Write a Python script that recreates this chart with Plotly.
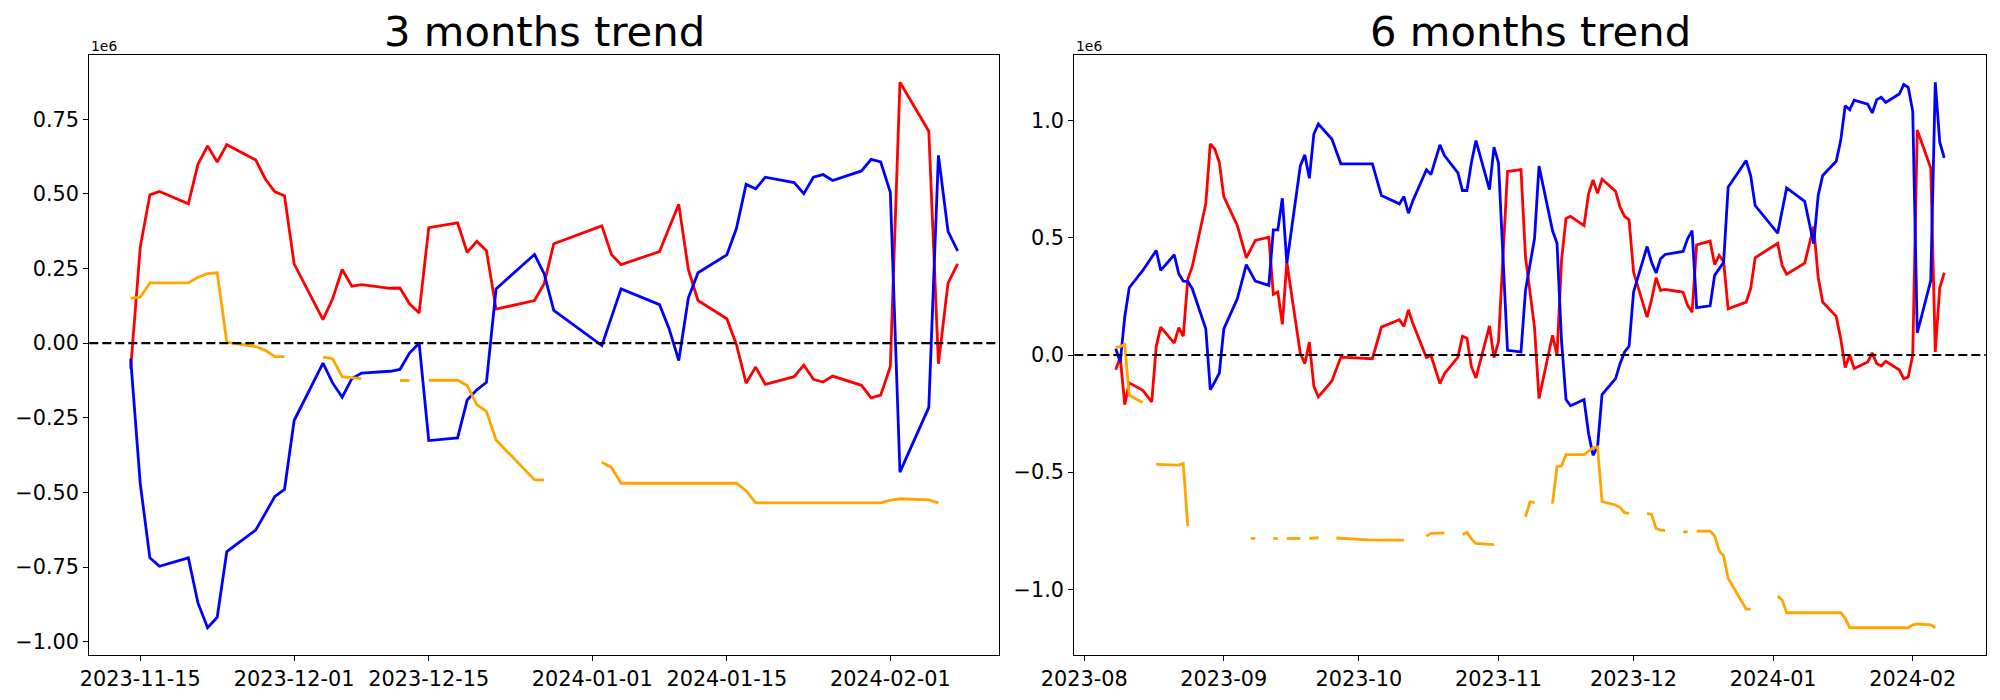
import plotly.graph_objects as go
import pandas as pd

# ---------------- 3 months trend ----------------
dates_3m = [
    "2023-11-14", "2023-11-15", "2023-11-16", "2023-11-17", "2023-11-20", "2023-11-21", "2023-11-22",
    "2023-11-23", "2023-11-24", "2023-11-27", "2023-11-28", "2023-11-29", "2023-11-30",
    "2023-12-01", "2023-12-04", "2023-12-05", "2023-12-06", "2023-12-07", "2023-12-08", "2023-12-11",
    "2023-12-12", "2023-12-13", "2023-12-14", "2023-12-15", "2023-12-18", "2023-12-19", "2023-12-20",
    "2023-12-21", "2023-12-22", "2023-12-26", "2023-12-27", "2023-12-28",
    "2024-01-02", "2024-01-03", "2024-01-04", "2024-01-08", "2024-01-09", "2024-01-10", "2024-01-11",
    "2024-01-12", "2024-01-15", "2024-01-16", "2024-01-17", "2024-01-18", "2024-01-19", "2024-01-22",
    "2024-01-23", "2024-01-24", "2024-01-25", "2024-01-26", "2024-01-29", "2024-01-30", "2024-01-31",
    "2024-02-01", "2024-02-02", "2024-02-05", "2024-02-06", "2024-02-07", "2024-02-08",
]
red_3m = [
    -0.086, 0.322, 0.497, 0.508, 0.467, 0.599, 0.661, 0.607, 0.665, 0.614, 0.550, 0.507, 0.494,
    0.266, 0.079, 0.149, 0.247, 0.191, 0.196, 0.184, 0.185, 0.132, 0.101, 0.387, 0.403, 0.304, 0.341,
    0.310, 0.114, 0.143, 0.199, 0.333,
    0.393, 0.297, 0.263, 0.307, 0.387, 0.465, 0.246, 0.143, 0.082, -0.005, -0.134, -0.080, -0.138,
    -0.112, -0.073, -0.121, -0.130, -0.110, -0.141, -0.183, -0.174,
    -0.078, 0.874, 0.710, -0.069, 0.201, 0.266,
]
blue_3m = [
    -0.052, -0.471, -0.719, -0.747, -0.719, -0.870, -0.953, -0.918, -0.698, -0.626, -0.570, -0.513, -0.490,
    -0.259, -0.067, -0.133, -0.181, -0.119, -0.100, -0.094, -0.088, -0.033, 0.000, -0.326, -0.317, -0.190,
    -0.156, -0.131, 0.182, 0.297, 0.233, 0.110,
    -0.008, 0.085, 0.182, 0.129, 0.048, -0.058, 0.152, 0.236, 0.296, 0.385, 0.532, 0.517, 0.556,
    0.538, 0.501, 0.556, 0.565, 0.545, 0.577, 0.616, 0.607,
    0.505, -0.432, -0.215, 0.629, 0.375, 0.309,
]
orange_3m = [
    0.151, 0.154, 0.202, 0.202, 0.202, 0.221, 0.233, 0.236, 0.003, -0.011, -0.024, -0.045, -0.045,
    None, -0.047, -0.052, -0.112, -0.116, -0.119, None, -0.125, -0.125, None, -0.124, -0.124, -0.142,
    -0.206, -0.228, -0.324, -0.458, -0.458, None,
    -0.399, -0.416, -0.469, -0.469, -0.469, -0.469, -0.469, -0.469, -0.469, -0.469, -0.494, -0.535, -0.535,
    -0.535, -0.535, -0.535, -0.535, -0.535, -0.535, -0.535, -0.535,
    -0.526, -0.521, -0.525, -0.535, None, None,
]
xticks_3m = ["2023-11-15", "2023-12-01", "2023-12-15", "2024-01-01", "2024-01-15", "2024-02-01"]
yticks_3m = [-1.0, -0.75, -0.5, -0.25, 0.0, 0.25, 0.5, 0.75]
yticklabels_3m = ["\u22121.00", "\u22120.75", "\u22120.50", "\u22120.25", "0.00", "0.25", "0.50", "0.75"]

# ---------------- 6 months trend ----------------
red_6m_dates = [
    "2023-08-08", "2023-08-09", "2023-08-10", "2023-08-11", "2023-08-14", "2023-08-16", "2023-08-17",
    "2023-08-18", "2023-08-21", "2023-08-22", "2023-08-23", "2023-08-24", "2023-08-25", "2023-08-28",
    "2023-08-29", "2023-08-30", "2023-08-31", "2023-09-01", "2023-09-04", "2023-09-06", "2023-09-08",
    "2023-09-11", "2023-09-12", "2023-09-13", "2023-09-14", "2023-09-15", "2023-09-18", "2023-09-19",
    "2023-09-20", "2023-09-21", "2023-09-22", "2023-09-25", "2023-09-27", "2023-10-04", "2023-10-06",
    "2023-10-10", "2023-10-11", "2023-10-12", "2023-10-13", "2023-10-16", "2023-10-17", "2023-10-19",
    "2023-10-20", "2023-10-23", "2023-10-24", "2023-10-25", "2023-10-26", "2023-10-27", "2023-10-30",
    "2023-10-31", "2023-11-01", "2023-11-03", "2023-11-06", "2023-11-07", "2023-11-09", "2023-11-10",
    "2023-11-13", "2023-11-14", "2023-11-15", "2023-11-16", "2023-11-17", "2023-11-20", "2023-11-21",
    "2023-11-22", "2023-11-23", "2023-11-24", "2023-11-27", "2023-11-28", "2023-11-29", "2023-11-30",
    "2023-12-01", "2023-12-04", "2023-12-05", "2023-12-06", "2023-12-07", "2023-12-08", "2023-12-11",
    "2023-12-12", "2023-12-13", "2023-12-14", "2023-12-15", "2023-12-18", "2023-12-19", "2023-12-20",
    "2023-12-21", "2023-12-22", "2023-12-26", "2023-12-27", "2023-12-28", "2024-01-02", "2024-01-03",
    "2024-01-04", "2024-01-08", "2024-01-10", "2024-01-11", "2024-01-12", "2024-01-15", "2024-01-16",
    "2024-01-17", "2024-01-18", "2024-01-19", "2024-01-22", "2024-01-23", "2024-01-24", "2024-01-25",
    "2024-01-26", "2024-01-29", "2024-01-30", "2024-01-31", "2024-02-01", "2024-02-02", "2024-02-05",
    "2024-02-06", "2024-02-07", "2024-02-08",
]
red_6m = [
    -0.063, -0.009, -0.212, -0.119, -0.151, -0.200, 0.037,
    0.119, 0.051, 0.117, 0.080, 0.323, 0.378, 0.645,
    0.901, 0.879, 0.823, 0.676, 0.553, 0.415, 0.489,
    0.503, 0.259, 0.269, 0.131, 0.396, 0.006, -0.037,
    0.055, -0.134, -0.179, -0.111, -0.009, -0.016, 0.119,
    0.151, 0.122, 0.193, 0.134, -0.011, -0.001, -0.122,
    -0.080, -0.009, 0.080, 0.072, -0.051, -0.098, 0.124,
    -0.011, 0.055, 0.783, 0.791, 0.418, 0.119, -0.186,
    0.084, 0.000, 0.404, 0.583, 0.592, 0.552, 0.688,
    0.747, 0.690, 0.750, 0.699, 0.631, 0.592, 0.577,
    0.354, 0.162, 0.236, 0.330, 0.276, 0.280, 0.271,
    0.268, 0.212, 0.183, 0.470, 0.486, 0.386, 0.425,
    0.399, 0.197, 0.226, 0.283, 0.415, 0.477, 0.382,
    0.345, 0.392, 0.548, 0.332, 0.226, 0.165, 0.070,
    -0.054, 0.001, -0.058, -0.030, 0.009, -0.036, -0.047,
    -0.027, -0.063, -0.101, -0.094, 0.000, 0.960, 0.798,
    0.013, 0.287, 0.351,
]
blue_6m_dates = [
    "2023-08-08", "2023-08-09", "2023-08-10", "2023-08-11", "2023-08-14", "2023-08-17", "2023-08-18",
    "2023-08-21", "2023-08-22", "2023-08-23", "2023-08-24", "2023-08-25", "2023-08-28", "2023-08-29",
    "2023-08-30", "2023-08-31", "2023-09-01", "2023-09-04", "2023-09-06", "2023-09-08", "2023-09-11",
    "2023-09-12", "2023-09-13", "2023-09-14", "2023-09-15", "2023-09-18", "2023-09-19", "2023-09-20",
    "2023-09-21", "2023-09-22", "2023-09-25", "2023-09-27", "2023-10-04", "2023-10-06", "2023-10-10",
    "2023-10-11", "2023-10-12", "2023-10-13", "2023-10-16", "2023-10-17", "2023-10-19", "2023-10-20",
    "2023-10-23", "2023-10-24", "2023-10-25", "2023-10-26", "2023-10-27", "2023-10-30", "2023-10-31",
    "2023-11-01", "2023-11-03", "2023-11-06", "2023-11-07", "2023-11-09", "2023-11-10", "2023-11-13",
    "2023-11-14", "2023-11-15", "2023-11-16", "2023-11-17", "2023-11-20", "2023-11-21", "2023-11-22",
    "2023-11-23", "2023-11-24", "2023-11-27", "2023-11-28", "2023-11-29", "2023-11-30", "2023-12-01",
    "2023-12-04", "2023-12-05", "2023-12-06", "2023-12-07", "2023-12-08", "2023-12-12", "2023-12-13",
    "2023-12-14", "2023-12-15", "2023-12-18", "2023-12-19", "2023-12-20", "2023-12-21", "2023-12-22",
    "2023-12-26", "2023-12-27", "2023-12-28", "2024-01-02", "2024-01-04", "2024-01-08", "2024-01-10",
    "2024-01-11", "2024-01-12", "2024-01-15", "2024-01-16", "2024-01-17", "2024-01-18", "2024-01-19",
    "2024-01-22", "2024-01-23", "2024-01-24", "2024-01-25", "2024-01-26", "2024-01-29", "2024-01-30",
    "2024-01-31", "2024-02-01", "2024-02-02", "2024-02-05", "2024-02-06", "2024-02-07", "2024-02-08",
]
blue_6m = [
    0.027, -0.030, 0.162, 0.287, 0.361, 0.446, 0.361,
    0.428, 0.347, 0.315, 0.314, 0.283, 0.112, -0.148,
    -0.115, -0.077, 0.111, 0.240, 0.386, 0.315, 0.297,
    0.534, 0.534, 0.669, 0.392, 0.808, 0.854, 0.754,
    0.943, 0.986, 0.922, 0.816, 0.816, 0.681, 0.645,
    0.676, 0.605, 0.659, 0.791, 0.770, 0.897, 0.851,
    0.777, 0.702, 0.702, 0.823, 0.915, 0.706, 0.887,
    0.820, 0.020, 0.013, 0.276, 0.496, 0.806, 0.531,
    0.477, 0.060, -0.190, -0.217, -0.190, -0.335, -0.428,
    -0.392, -0.169, -0.101, -0.037, 0.013, 0.037, 0.269,
    0.463, 0.396, 0.350, 0.411, 0.429, 0.442, 0.496,
    0.531, 0.202, 0.210, 0.340, 0.368, 0.396, 0.716,
    0.830, 0.766, 0.638, 0.520, 0.713, 0.656, 0.475,
    0.681, 0.766, 0.827, 0.915, 1.064, 1.047, 1.088,
    1.071, 1.033, 1.090, 1.100, 1.078, 1.114, 1.154,
    1.142, 1.040, 0.094, 0.318, 1.164, 0.908, 0.841,
]
orange_6m_dates = [
    "2023-08-08", "2023-08-09", "2023-08-10", "2023-08-11", "2023-08-14", "2023-08-15",
    "2023-08-17", "2023-08-18", "2023-08-21", "2023-08-22", "2023-08-23", "2023-08-24", "2023-08-25",
    "2023-09-07", "2023-09-08", "2023-09-11", "2023-09-12", "2023-09-13", "2023-09-14",
    "2023-09-15", "2023-09-18", "2023-09-19", "2023-09-20", "2023-09-22", "2023-09-25",
    "2023-09-26", "2023-10-03", "2023-10-11", "2023-10-12",
    "2023-10-16", "2023-10-17", "2023-10-20", "2023-10-23",
    "2023-10-24", "2023-10-25", "2023-10-26", "2023-10-27", "2023-10-31", "2023-11-01",
    "2023-11-07", "2023-11-08", "2023-11-09", "2023-11-10",
    "2023-11-13", "2023-11-14", "2023-11-15", "2023-11-16", "2023-11-20", "2023-11-21", "2023-11-22",
    "2023-11-23", "2023-11-24", "2023-11-27", "2023-11-28", "2023-11-29", "2023-11-30", "2023-12-01",
    "2023-12-04", "2023-12-05", "2023-12-06", "2023-12-07", "2023-12-08", "2023-12-11",
    "2023-12-12", "2023-12-13", "2023-12-14",
    "2023-12-15", "2023-12-18", "2023-12-19", "2023-12-20", "2023-12-21", "2023-12-22", "2023-12-26",
    "2023-12-27", "2023-12-28",
    "2024-01-02", "2024-01-03", "2024-01-04", "2024-01-16", "2024-01-17", "2024-01-18", "2024-01-31",
    "2024-02-01", "2024-02-02", "2024-02-05", "2024-02-06",
]
orange_6m = [
    0.033, 0.036, 0.045, -0.172, -0.203, None,
    -0.467, -0.467, -0.468, -0.470, -0.463, -0.730, None,
    -0.783, -0.783, None, -0.783, -0.783, None,
    -0.783, -0.783, None, -0.783, -0.780, None,
    -0.781, -0.789, -0.790, None,
    -0.773, -0.761, -0.759, None,
    -0.766, -0.757, -0.785, -0.804, -0.809, None,
    -0.690, -0.627, -0.630, None,
    -0.634, -0.477, -0.473, -0.425, -0.425, -0.410, -0.396,
    -0.392, -0.626, -0.640, -0.651, -0.673, -0.676, None,
    -0.676, -0.680, -0.740, -0.747, -0.749, None,
    -0.755, -0.755, None,
    -0.752, -0.752, -0.771, -0.835, -0.857, -0.953, -1.085,
    -1.085, None,
    -1.029, -1.046, -1.100, -1.100, -1.124, -1.164, -1.164,
    -1.152, -1.148, -1.152, -1.164,
]
xticks_6m = ["2023-08-01", "2023-09-01", "2023-10-01", "2023-11-01", "2023-12-01", "2024-01-01", "2024-02-01"]
xticklabels_6m = ["2023-08", "2023-09", "2023-10", "2023-11", "2023-12", "2024-01", "2024-02"]
yticks_6m = [-1.0, -0.5, 0.0, 0.5, 1.0]
yticklabels_6m = ["\u22121.0", "\u22120.5", "0.0", "0.5", "1.0"]

titles = ["3 months trend", "6 months trend"]

# ---------------- helpers ----------------
def x_range(date_lists):
    allds = pd.to_datetime([d for lst in date_lists for d in lst])
    lo, hi = allds.min(), allds.max()
    pad = (hi - lo) * 0.05
    return [(lo - pad).isoformat(), (hi + pad).isoformat()]


def y_range(value_lists):
    vals = [v for lst in value_lists for v in lst if v is not None]
    lo, hi = min(vals), max(vals)
    pad = (hi - lo) * 0.05
    return [lo - pad, hi + pad]


FONT = "DejaVu Sans"
W, H = 2000, 700
LEFT_DOM = [89.3 / W, 999.0 / W]
RIGHT_DOM = [1074.3 / W, 1985.7 / W]
Y_DOM = [1 - 655.0 / H, 1 - 55.0 / H]

fig = go.Figure()
LW = 2.8

fig.add_trace(go.Scatter(x=dates_3m, y=red_3m, mode="lines", line=dict(color="#ff0000", width=LW),
                         xaxis="x", yaxis="y", showlegend=False))
fig.add_trace(go.Scatter(x=dates_3m, y=blue_3m, mode="lines", line=dict(color="#0000ff", width=LW),
                         xaxis="x", yaxis="y", showlegend=False))
fig.add_trace(go.Scatter(x=dates_3m, y=orange_3m, mode="lines", line=dict(color="#ffa500", width=LW),
                         xaxis="x", yaxis="y", showlegend=False, connectgaps=False))

fig.add_trace(go.Scatter(x=red_6m_dates, y=red_6m, mode="lines", line=dict(color="#ff0000", width=LW),
                         xaxis="x2", yaxis="y2", showlegend=False))
fig.add_trace(go.Scatter(x=blue_6m_dates, y=blue_6m, mode="lines", line=dict(color="#0000ff", width=LW),
                         xaxis="x2", yaxis="y2", showlegend=False))
fig.add_trace(go.Scatter(x=orange_6m_dates, y=orange_6m, mode="lines", line=dict(color="#ffa500", width=LW),
                         xaxis="x2", yaxis="y2", showlegend=False, connectgaps=False))

axis_common = dict(
    showline=True, linecolor="black", linewidth=1.1, mirror=True,
    ticks="outside", ticklen=5, tickwidth=1.1, tickcolor="black",
    showgrid=False, zeroline=False, automargin=False,
    tickfont=dict(family=FONT, size=20.8, color="black"),
)

fig.update_layout(
    template="none",
    width=W, height=H, autosize=False,
    margin=dict(l=0, r=0, t=0, b=0, pad=0),
    paper_bgcolor="white", plot_bgcolor="white",
    font=dict(family=FONT, color="black"),
    showlegend=False,
    xaxis=dict(domain=LEFT_DOM, anchor="y", type="date",
               range=x_range([dates_3m]),
               tickmode="array", tickvals=xticks_3m, ticktext=xticks_3m, **axis_common),
    yaxis=dict(domain=Y_DOM, anchor="x",
               range=y_range([red_3m, blue_3m, orange_3m]),
               tickmode="array", tickvals=yticks_3m, ticktext=yticklabels_3m, **axis_common),
    xaxis2=dict(domain=RIGHT_DOM, anchor="y2", type="date",
                range=x_range([red_6m_dates, blue_6m_dates, orange_6m_dates]),
                tickmode="array", tickvals=xticks_6m, ticktext=xticklabels_6m, **axis_common),
    yaxis2=dict(domain=Y_DOM, anchor="x2",
                range=y_range([red_6m, blue_6m, orange_6m]),
                tickmode="array", tickvals=yticks_6m, ticktext=yticklabels_6m, **axis_common),
)

# zero reference lines
for xr, yr in (("x domain", "y"), ("x2 domain", "y2")):
    fig.add_shape(type="line", xref=xr, yref=yr, x0=0, x1=1, y0=0, y1=0,
                  line=dict(color="black", width=2.2, dash="9px,4px"), layer="above")

# titles and offset labels
for title, dom in zip(titles, (LEFT_DOM, RIGHT_DOM)):
    fig.add_annotation(text=title, xref="paper", yref="paper", x=(dom[0] + dom[1]) / 2,
                       y=1 - 32.0 / H, xanchor="center", yanchor="middle", showarrow=False,
                       font=dict(family=FONT, size=41.7, color="black"))
    fig.add_annotation(text="1e6", xref="paper", yref="paper", x=dom[0], y=1 - 55.5 / H,
                       xanchor="left", yanchor="bottom", showarrow=False,
                       font=dict(family=FONT, size=13.9, color="black"))

fig.write_html("out.html", config={"displayModeBar": False},
               post_script="document.body.style.margin='0';document.body.style.overflow='hidden';")
